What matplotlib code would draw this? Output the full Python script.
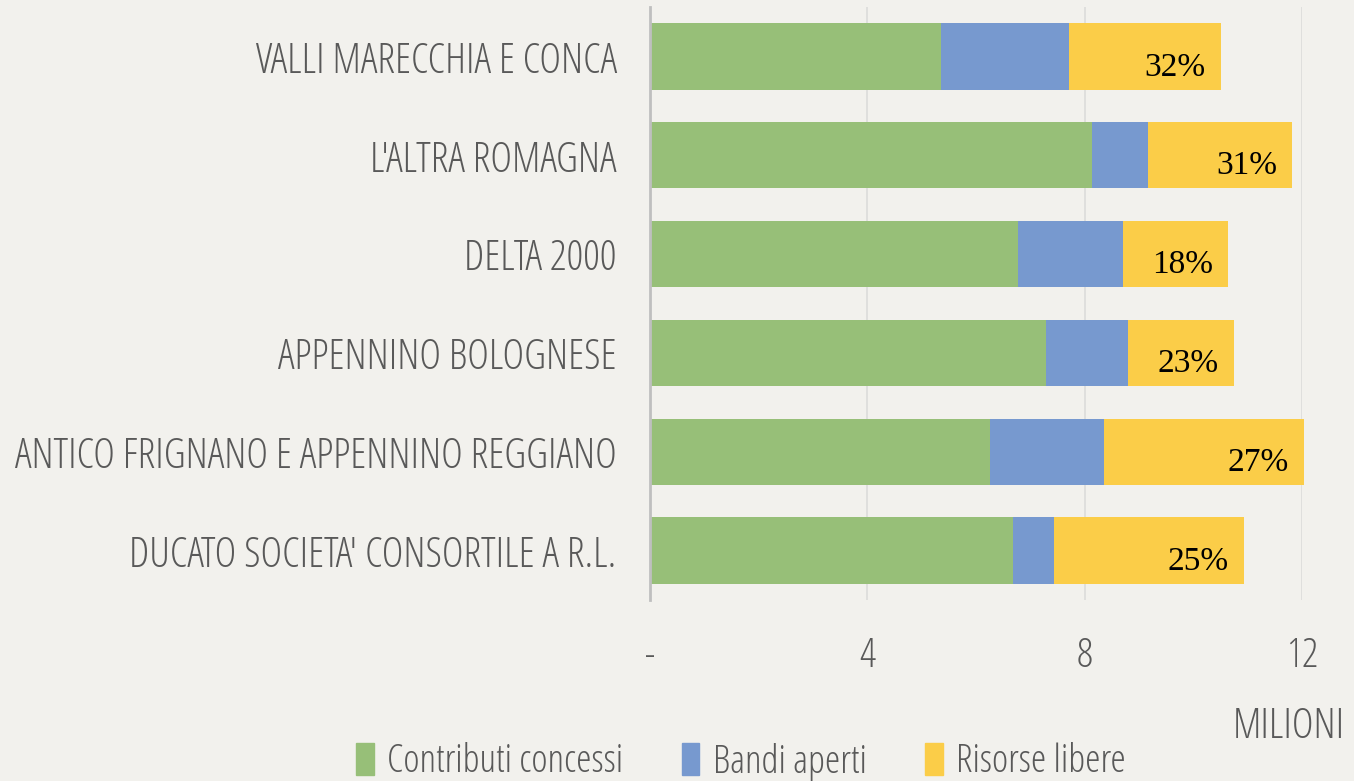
import matplotlib
matplotlib.use("Agg")
import matplotlib.pyplot as plt
from matplotlib.patches import Patch
from matplotlib.font_manager import FontProperties

categories = ["VALLI MARECCHIA E CONCA", "L'ALTRA ROMAGNA", "DELTA 2000",
              "APPENNINO BOLOGNESE", "ANTICO FRIGNANO E APPENNINO REGGIANO",
              "DUCATO SOCIETA' CONSORTILE A R.L."]
contributi = [5.36, 8.13, 6.78, 7.28, 6.25, 6.69]
bandi = [2.36, 1.03, 1.92, 1.51, 2.10, 0.74]
risorse = [2.79, 2.66, 1.94, 1.96, 3.69, 3.50]
percent_labels = ["32%", "31%", "18%", "23%", "27%", "25%"]
series_names = ["Contributi concessi", "Bandi aperti", "Risorse libere"]
xticks = [0, 4, 8, 12]
xtick_labels = ["-", "4", "8", "12"]

BG = "#F2F1ED"
GREEN = "#97BF78"
BLUE = "#7799CF"
YELLOW = "#FBCD48"
TXT = "#595959"


def cond(size):
    return FontProperties(family="Open Sans", stretch="condensed", weight=300, size=size)


fig = plt.figure(figsize=(13.54, 7.81), dpi=100, facecolor=BG)
ax = fig.add_axes([650/1354, 1-600/781, (1302-650)/1354, (600-7)/781])
ax.set_facecolor(BG)

y = list(range(len(categories)))
h = 0.67
ax.barh(y, contributi, height=h, color=GREEN, zorder=2)
ax.barh(y, bandi, left=contributi, height=h, color=BLUE, zorder=2)
left3 = [a + b for a, b in zip(contributi, bandi)]
ax.barh(y, risorse, left=left3, height=h, color=YELLOW, zorder=2, clip_on=False)

for yi, l3, r, lab in zip(y, left3, risorse, percent_labels):
    ax.text(l3 + r - 0.28, yi + 0.11, lab, ha="right", va="center",
            fontsize=24, family="Liberation Serif", color="black", zorder=3)

ax.set_xlim(0, 12)
ax.set_ylim(5.5, -0.5)
ax.set_xticks(xticks)
ax.set_xticklabels(xtick_labels)
ax.set_yticks(y)
ax.set_yticklabels(categories)
ax.grid(axis="x", color="#DCDCDA", linewidth=1.2, zorder=0)
for s in ["top", "right", "bottom"]:
    ax.spines[s].set_visible(False)
ax.spines["left"].set_color("#BFBFBF")
ax.spines["left"].set_linewidth(2)
ax.tick_params(axis="x", length=0, pad=26, labelcolor=TXT)
ax.tick_params(axis="y", length=0, pad=24, labelcolor=TXT)
for t in ax.get_xticklabels():
    t.set_fontproperties(cond(29))
for t in ax.get_yticklabels():
    t.set_fontproperties(cond(30))

fig.text(1345/1354, 1-727/781, "MILIONI", ha="right", va="center",
         color=TXT, fontproperties=cond(30))

handles = [Patch(facecolor=c, edgecolor=c) for c in (GREEN, BLUE, YELLOW)]
leg = fig.legend(handles, series_names, loc="center",
                 bbox_to_anchor=(741/1354, 1-762/781), ncol=3, frameon=False,
                 prop=cond(28), handlelength=0.45,
                 handleheight=0.9, handletextpad=0.35, columnspacing=1.5,
                 labelcolor=TXT)

fig.savefig("out.png", dpi=100, facecolor=BG)
